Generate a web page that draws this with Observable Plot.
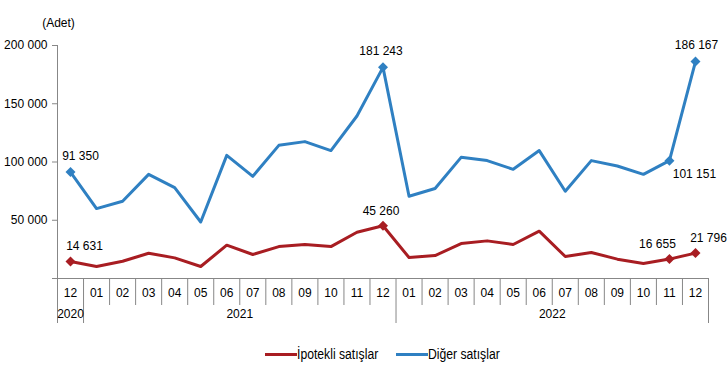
<!DOCTYPE html>
<html>
<head>
<meta charset="utf-8">
<script src="https://cdn.jsdelivr.net/npm/d3@7"></script>
<script src="https://cdn.jsdelivr.net/npm/@observablehq/plot@0.6"></script>
<style>
  html, body { margin: 0; padding: 0; background: #fff; }
  #chart { width: 727px; }
  .legend { display: flex; justify-content: flex-start; align-items: center; height: 38px; padding-left: 265px; font-family: "Liberation Sans", Arial, sans-serif; font-size: 14px; color: #000; }
  .legend .item { display: flex; align-items: center; margin-right: 18px; }
  .legend .swatch { width: 32px; height: 3px; }
  .legend .label { display: inline-block; transform: scaleX(0.87); transform-origin: left center; white-space: nowrap; }
</style>
</head>
<body>
<div id="chart"></div>
<script>
// Data
const months = ["12","01","02","03","04","05","06","07","08","09","10","11","12","01","02","03","04","05","06","07","08","09","10","11","12"];
const years = [2020,2021,2021,2021,2021,2021,2021,2021,2021,2021,2021,2021,2021,2022,2022,2022,2022,2022,2022,2022,2022,2022,2022,2022,2022];
const ipotekli = [14631,10300,14800,21700,17700,10300,28600,20600,27400,29200,27400,39700,45260,18000,19700,30000,32300,29200,40600,18900,22300,16600,12900,16655,21796];
const diger = [91350,60000,66300,89400,78000,48500,105700,87700,114300,117500,109800,139500,181243,70600,77200,104000,101200,93700,109800,74900,101200,96600,89400,101151,186167];
const seriesNames = ["İpotekli satışlar", "Diğer satışlar"];
const yTicks = [0, 50000, 100000, 150000, 200000];
const unitLabel = "(Adet)";

// Annotated points (index, series) with label offsets (style only)
const annotations = [
  {i: 0, s: 1, dx: 10, dy: -16},
  {i: 12, s: 1, dx: -2, dy: -16},
  {i: 23, s: 1, dx: 25, dy: 13},
  {i: 24, s: 1, dx: 1, dy: -16},
  {i: 0, s: 0, dx: 14, dy: -15},
  {i: 12, s: 0, dx: -2, dy: -15},
  {i: 23, s: 0, dx: -12, dy: -15},
  {i: 24, s: 0, dx: 13, dy: -15}
];

const colors = ["#a81d22", "#2f80c2"];
const seriesValues = [ipotekli, diger];

const rows = [];
seriesValues.forEach((vals, s) => vals.forEach((v, i) => rows.push({i, v, s: seriesNames[s]})));

const fmt = d => d3.format(",")(d).replace(/,/g, " ");

const pts = annotations.map(a => ({i: a.i, v: seriesValues[a.s][a.i], s: seriesNames[a.s], dx: a.dx, dy: a.dy}));

// Category bookkeeping for axis
const cats = months.map((m, i) => ({i, m, y: years[i]}));
const boundaries = d3.range(0, months.length + 1).map(k => {
  const yearEdge = k === 0 || k === months.length || years[k] !== years[k - 1];
  return {x: k - 0.5, yearEdge};
});
const yearGroups = d3.groups(cats, d => d.y).map(([y, arr]) => ({y, x: d3.mean(arr, d => d.i)}));

const marks = [
  Plot.ruleX([-0.5], {stroke: "#878787"}),
  Plot.ruleY([0], {stroke: "#878787"}),
  Plot.axisY({ticks: yTicks, tickFormat: d => d === 0 ? "" : fmt(d), tickSize: 5, tickPadding: 5, stroke: "#878787", fill: "#000", fontSize: 12, label: null}),
  // category separators below axis
  Plot.ruleX(boundaries.filter(d => !d.yearEdge), {x: "x", y1: 0, y2: 0, insetBottom: -27, stroke: "#878787"}),
  Plot.ruleX(boundaries.filter(d => d.yearEdge), {x: "x", y1: 0, y2: 0, insetBottom: -45, stroke: "#878787"}),
  Plot.text(cats, {x: "i", y: 0, text: "m", dy: 15, fontSize: 12, fill: "#000"}),
  Plot.text(yearGroups, {x: "x", y: 0, text: d => String(d.y), dy: 36, fontSize: 12, fill: "#000"}),
  Plot.line(rows, {x: "i", y: "v", z: "s", stroke: d => d.s, strokeWidth: 3, strokeLinejoin: "round"}),
  Plot.dot(pts, {x: "i", y: "v", fill: d => d.s, symbol: "diamond2", r: 4.5, stroke: "none"}),
  ...pts.map(p => Plot.text([p], {x: "i", y: "v", text: d => fmt(d.v), dx: p.dx, dy: p.dy, fontSize: 12, fill: "#000"})),
  Plot.text([unitLabel], {frameAnchor: "top-left", text: d => d, dx: 1, dy: -27, fontSize: 12, fill: "#000", textAnchor: "middle"})
];

const plot = Plot.plot({
  width: 727,
  height: 335,
  marginTop: 45,
  marginBottom: 57,
  marginLeft: 57,
  marginRight: 19,
  style: {fontFamily: "'Liberation Sans', Arial, sans-serif", fontSize: "12px", background: "#fff", overflow: "visible"},
  x: {domain: [-0.5, months.length - 0.5], axis: null},
  y: {domain: [0, 200000], axis: null},
  color: {domain: seriesNames, range: colors},
  marks
});
document.getElementById("chart").appendChild(plot);

const legend = document.createElement("div");
legend.className = "legend";
document.getElementById("chart").appendChild(legend);
seriesNames.forEach((n, k) => {
  const item = document.createElement("div");
  item.className = "item";
  const sw = document.createElement("span");
  sw.className = "swatch";
  sw.style.background = colors[k];
  const t = document.createElement("span");
  t.className = "label";
  t.textContent = n;
  item.appendChild(sw);
  item.appendChild(t);
  legend.appendChild(item);
  const w = t.getBoundingClientRect().width / 0.87;
  t.style.marginRight = (-(w * 0.13)) + "px";
});
</script>
</body>
</html>
